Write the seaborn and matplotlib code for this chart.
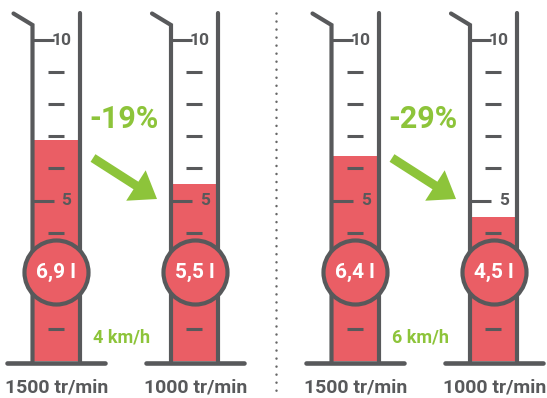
import matplotlib
matplotlib.use("Agg")
import matplotlib.pyplot as plt
import seaborn as sns

# Fuel consumption per run (litres)
rpm_labels = ["1500 tr/min", "1000 tr/min", "1500 tr/min", "1000 tr/min"]
consumption = [6.9, 5.5, 6.4, 4.5]
value_labels = ["6,9 l", "5,5 l", "6,4 l", "4,5 l"]
speed_labels = ["4 km/h", "6 km/h"]
reduction_labels = ["-19%", "-29%"]
scale_ticks = list(range(1, 11))
labelled_ticks = [5, 10]

GRAY = "#58595b"
RED = "#ea5e65"
GREEN = "#8dc43a"
FONT = ["Roboto", "DejaVu Sans"]

# layout (pixels from the left / top of the canvas)
W, H = 547, 398
Y0_PX = 361.0        # pixel row of 0 l
PX_PER_L = 32.1      # pixels per litre
CYL_W = 47           # distance between the two walls
GROUP_SHIFT = 299
centers = [56, 194.5, 56 + GROUP_SHIFT, 194.5 + GROUP_SHIFT]


def py2y(py):
    return (Y0_PX - py) / PX_PER_L


sns.set_theme(style="white")
plt.rcParams["font.family"] = FONT

fig = plt.figure(figsize=(W / 100, H / 100), dpi=100)
ax = fig.add_axes([0, 0, 1, 1])

# liquid level in each cylinder
sns.barplot(x=centers, y=consumption, native_scale=True,
            width=CYL_W / (centers[1] - centers[0]), color=RED,
            saturation=1, linewidth=0, ax=ax, zorder=1)

WALL_LW = 3.0
TICK_LW = 2.2
for cx in centers:
    left, right = cx - CYL_W / 2, cx + CYL_W / 2
    # walls, lip and base
    ax.plot([left, left, left - 19], [py2y(363), py2y(25), py2y(13.5)],
            color=GRAY, lw=WALL_LW, solid_capstyle="round",
            solid_joinstyle="miter", zorder=3)
    ax.plot([right, right], [py2y(363), py2y(13)], color=GRAY, lw=WALL_LW,
            solid_capstyle="round", zorder=3)
    ax.plot([cx - 49, cx + 49], [py2y(363), py2y(363)], color=GRAY,
            lw=WALL_LW + 0.3, solid_capstyle="round", zorder=3)
    # graduations
    for t in scale_ticks:
        if t in labelled_ticks:
            ax.plot([left, left + 21], [t, t], color=GRAY, lw=TICK_LW,
                    solid_capstyle="butt", zorder=3)
            ax.text(left + 39, t, str(t), ha="right", va="center",
                    fontsize=12.5, fontweight="bold", color=GRAY, zorder=3)
        else:
            ax.plot([left + 15, left + 31], [t, t], color=GRAY, lw=TICK_LW,
                    solid_capstyle="butt", zorder=3)

# value badges
sns.scatterplot(x=centers, y=[py2y(272)] * len(centers), s=2125, color=RED,
                edgecolor=GRAY, linewidth=3.0, legend=False, ax=ax, zorder=5)
for cx, lab in zip(centers, value_labels):
    ax.text(cx, py2y(272), lab, ha="center", va="center", fontsize=15,
            fontweight="bold", color="white", zorder=6)

for cx, lab in zip(centers, rpm_labels):
    ax.text(cx + 1, py2y(387), lab, ha="center", va="center", fontsize=14,
            fontweight="bold", color=GRAY)

for g, (spd, red) in enumerate(zip(speed_labels, reduction_labels)):
    dx = g * GROUP_SHIFT
    ax.text(93 + dx, py2y(337), spd, ha="left", va="center", fontsize=13,
            fontweight="bold", color=GREEN)
    ax.text(124 + dx, py2y(119), red, ha="center", va="center", fontsize=22,
            fontweight="bold", color=GREEN)
    ax.annotate("", xy=(157 + dx, py2y(199)), xytext=(93 + dx, py2y(158)),
                arrowprops=dict(arrowstyle="simple,head_length=18,head_width=26,tail_width=6.5",
                                mutation_scale=1, color=GREEN, lw=0,
                                shrinkA=0, shrinkB=0))

# divider between the two speeds
ax.plot([276, 276], [py2y(13), py2y(397)], color="#666666", lw=1.8,
        linestyle=(0, (0.01, 3.2)), dash_capstyle="round")

ax.set_xlim(0, W)
ax.set_ylim(py2y(H), py2y(0))
ax.axis("off")
fig.savefig("out.png", dpi=100)
